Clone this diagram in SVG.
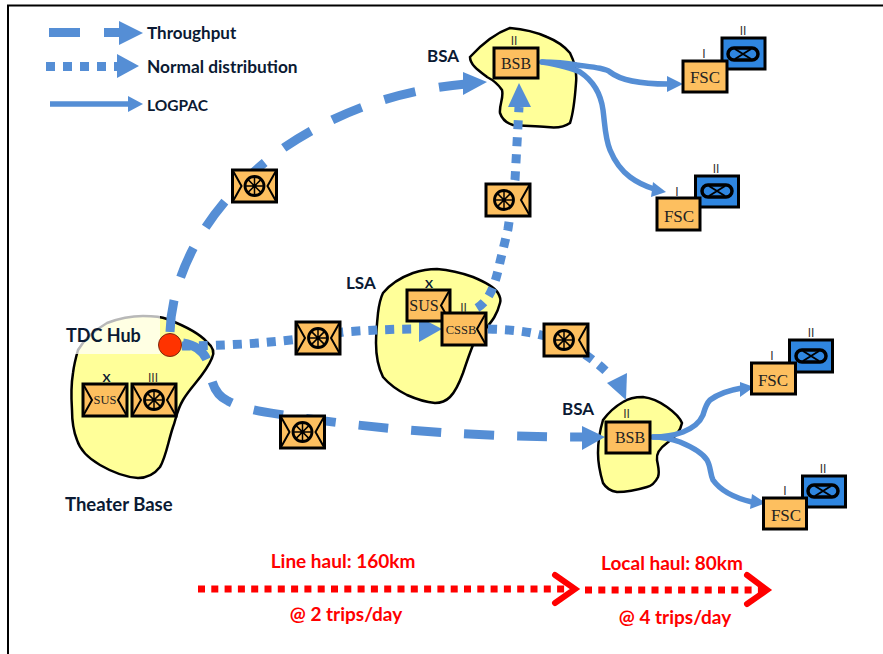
<svg xmlns="http://www.w3.org/2000/svg" width="883" height="654" viewBox="0 0 883 654">
<style>
.blob{fill:#ffff99;stroke:#000;stroke-width:2.5}
.box{fill:#fdbf5f;stroke:#000;stroke-width:3}
.blue{fill:#2f86e0;stroke:#000;stroke-width:3}
.ch{fill:none;stroke:#000;stroke-width:2}
.dash{fill:none;stroke:#558ed5;stroke-width:9}
.dot{fill:none;stroke:#558ed5;stroke-width:9;stroke-dasharray:9 8}
.solid{fill:none;stroke:#558ed5;stroke-width:5.500;stroke-linecap:round}
.head{fill:#558ed5}
.lab{font-family:Lato,"Liberation Sans",sans-serif;font-weight:700;font-size:17px;fill:#0b1a33}
.red{font-family:Lato,"Liberation Sans",sans-serif;font-weight:700;font-size:19px;fill:#ff0000;text-anchor:middle}
.ser{font-family:"Liberation Serif",serif;font-size:16px;fill:#222;text-anchor:middle}
.rank{font-family:"Liberation Sans",sans-serif;font-size:12px;fill:#333;text-anchor:middle}
</style>
<defs>
<g id="wheel" fill="none" stroke="#000">
<circle r="9.5" stroke-width="2.8"/>
<path stroke-width="1.5" d="M-9,0H9M0,-9V9M-6.4,-6.4L6.4,6.4M-6.4,6.4L6.4,-6.4"/>
<circle r="2" fill="#000" stroke="none"/>
</g>
<path id="chL" class="ch" d="M0,0L9,16L0,32"/>
<path id="chR" class="ch" d="M44,0L35,16L44,32"/>
<g id="inf"><rect x="-15" y="-6" width="30" height="12" rx="6" fill="none" stroke="#000" stroke-width="3.500"/><path d="M-8,-5L8,5M-8,5L8,-5" stroke="#000" stroke-width="2"/></g>
</defs>

<g id="frame"><path d="M8,654V5.500H883" fill="none" stroke="#000" stroke-width="2"/></g>

<g id="theater-base">
<path class="blob" d="M167,319C185,326 200,334 207,342C213,347 215,352 212,358C205,375 192,385 183,400C176,412 176,420 173,427C168,442 166,457 160,467C153,476 146,478 138,478C125,477 112,472 100,465C88,458 80,450 77,440C73,430 72,420 72,410C71,395 71,385 73,373C74,365 76,357 78,350C85,338 95,330 107,323C120,318 130,316 143,316C152,316 160,316 167,319Z"/>
<rect x="72" y="312" width="88" height="42" fill="#fff" fill-opacity=".72"/>
<text class="lab" x="66" y="342" style="font-size:18px">TDC Hub</text>
<text class="lab" x="65" y="511" style="font-size:18.500px">Theater Base</text>
</g>

<g id="lsa">
<path class="blob" d="M383,293C392,282 402,277 413,273C422,270 430,269 437,269C450,270 462,273 473,277C485,282 495,288 498,293C501,298 501,300 500,303C497,315 492,321 487,327C481,335 477,340 473,345C469,355 466,364 463,373C459,384 456,391 450,397C446,401 441,403 435,403C425,402 416,399 407,395C397,390 389,384 383,377C378,367 376,355 376,343C376,333 377,323 378,313C379,305 380,299 383,293Z"/>
<text class="lab" x="346" y="289">LSA</text>
</g>

<g id="bsa-top">
<path class="blob" d="M470,57C483,43 496,33 510,28C522,29 536,32 547,37C557,41 565,47 570,53C575,63 577,73 576,83C575,97 574,111 570,123C563,128 555,128 547,127C535,126 524,126 513,125C506,123 502,119 500,113C499,105 504,98 502,90C498,84 493,80 487,77C479,71 470,65 470,57Z"/>
<text class="lab" x="427" y="62">BSA</text>
</g>

<g id="bsa-bottom">
<path class="blob" d="M603,420C609,412 616,406 623,402C629,398 636,397 643,397C652,398 660,402 667,407C674,412 680,418 682,423C680,433 673,439 667,443C660,448 656,454 657,460C658,466 660,472 658,477C655,483 651,486 647,487C637,490 627,492 617,492C610,491 606,488 603,483C600,473 598,463 598,453C598,441 600,430 603,420Z"/>
<text class="lab" x="562" y="415">BSA</text>
</g>

<g id="connectors">
<path class="dash" stroke-dasharray="32 24" d="M170,332C172,270 210,200 285,147C340,110 400,90 466,84"/>
<polygon class="head" points="463,72 487,82 463,95"/>
<path class="dash" stroke-dasharray="30 23" d="M183,343C195,345 205,352 208,363C212,385 215,395 228,401C245,410 265,412 290,416C380,430 480,437 584,437"/>
<polygon class="head" points="582,426 605,437 582,450"/>
<path class="dot" d="M182,346C220,346 290,343 343,332C370,330 395,329 420,329"/>
<polygon class="head" points="419,317 442,329 419,342"/>
<path class="dot" d="M488,329C530,330 570,335 611,376"/>
<polygon class="head" points="607,383 627,373 626,400"/>
<path class="dot" d="M477,308C490,300 495,285 500,262L508,229L515,180L519,107"/>
<polygon class="head" points="508,107 519,83 531,107"/>
<path class="solid" d="M542,62C555,62 566,63 577,65C592,67 605,68 610,72C620,80 640,84 668,84"/>
<polygon class="head" points="667,76 683,84 667,92"/>
<path class="solid" d="M542,62C560,65 572,68 580,72C595,82 601,95 603,110C605,125 605,138 610,150C615,162 622,171 630,177C638,183 645,186 654,189"/>
<polygon class="head" points="653,182 666,192 651,197"/>
<path class="solid" d="M653,437C665,437 675,435 683,432C693,428 700,422 703,415C705,408 706,404 710,400C718,394 730,390 742,388"/>
<polygon class="head" points="740,382 754,387 740,397"/>
<path class="solid" d="M653,437C663,437 672,439 680,442C692,447 702,452 707,460C711,467 710,474 713,480C720,490 735,498 752,502"/>
<polygon class="head" points="752,494 766,503 750,509"/>
</g>

<g id="hub-dot"><circle cx="170" cy="345" r="11.500" fill="#ff3300" stroke="#7a2a10" stroke-width="1"/></g>

<g id="legend">
<path class="dash" d="M49,32.500H80M104,32.500H122"/>
<polygon class="head" points="119,21 143,33 119,45"/>
<path class="dot" d="M46,66.500H118"/>
<polygon class="head" points="117,54 139,66 117,78"/>
<path class="solid" style="stroke-linecap:butt" d="M50,104H130"/>
<polygon class="head" points="128,96 143,104 128,112"/>
<text class="lab" x="147" y="39">Throughput</text>
<text class="lab" x="147" y="73" style="font-size:17.300px">Normal distribution</text>
<text class="lab" x="147" y="111" style="font-size:15.500px">LOGPAC</text>
</g>

<g id="truck-1"><rect class="box" x="232.500" y="170" width="44" height="32"/><use href="#chL" x="232.500" y="170"/><use href="#chR" x="232.500" y="170"/><use href="#wheel" x="254.500" y="186"/></g>
<g id="truck-2"><rect class="box" x="486" y="184" width="44" height="32"/><use href="#chR" x="486" y="184"/><use href="#wheel" x="504" y="200"/></g>
<g id="truck-3"><rect class="box" x="296" y="322" width="44" height="32"/><use href="#chL" x="296" y="322"/><use href="#chR" x="296" y="322"/><use href="#wheel" x="318" y="338"/></g>
<g id="truck-4"><rect class="box" x="280.500" y="416" width="44" height="32"/><use href="#chL" x="280.500" y="416"/><use href="#chR" x="280.500" y="416"/><use href="#wheel" x="302.500" y="432"/></g>
<g id="truck-5"><rect class="box" x="544" y="324" width="44" height="32"/><use href="#chR" x="544" y="324"/><use href="#wheel" x="564" y="340"/></g>

<g id="sus-base"><rect class="box" x="83" y="384" width="44" height="32"/><use href="#chL" x="83" y="384"/><use href="#chR" x="83" y="384"/><text class="ser" x="105" y="404" style="font-size:12.500px">SUS</text><text class="lab" x="106.500" y="382" text-anchor="middle" style="font-size:12px">X</text></g>
<g id="wheel-base"><rect class="box" x="132" y="384" width="44" height="32"/><use href="#chL" x="132" y="384"/><use href="#chR" x="132" y="384"/><use href="#wheel" x="154" y="400"/><text class="rank" x="153" y="382">III</text></g>

<g id="sus-lsa"><rect class="box" x="407" y="290" width="43" height="31"/><use href="#chR" x="406" y="289.500"/><text class="ser" x="424" y="311">SUS</text><text class="lab" x="429" y="288" text-anchor="middle" style="font-size:12px">X</text></g>
<g id="cssb"><rect class="box" x="442" y="313" width="44" height="32"/><use href="#chR" x="442" y="313"/><text class="ser" x="461" y="334" style="font-size:12.500px">CSSB</text><text class="rank" x="463.500" y="312">II</text></g>

<g id="bsb-top"><rect class="box" x="494" y="48" width="44" height="30"/><text class="ser" x="516" y="69">BSB</text><text class="rank" x="514" y="45">II</text></g>
<g id="bsb-bottom"><rect class="box" x="606" y="422" width="44" height="31"/><text class="ser" x="630" y="443">BSB</text><text class="rank" x="626.500" y="418">II</text></g>

<g id="fsc-1"><rect class="blue" x="722" y="38" width="43" height="31"/><use href="#inf" x="743" y="54"/><text class="rank" x="743" y="35">II</text><rect class="box" x="683" y="61" width="44" height="31"/><text class="ser" x="705" y="83" style="font-size:17px">FSC</text><text class="rank" x="704" y="58">I</text></g>
<g id="fsc-2"><rect class="blue" x="695.500" y="176" width="43" height="31"/><use href="#inf" x="717" y="191"/><text class="rank" x="716" y="173">II</text><rect class="box" x="657" y="198" width="43" height="32"/><text class="ser" x="679" y="222" style="font-size:17px">FSC</text><text class="rank" x="677" y="196">I</text></g>
<g id="fsc-3"><rect class="blue" x="789.500" y="340" width="43" height="32"/><use href="#inf" x="811" y="356"/><text class="rank" x="811" y="337">II</text><rect class="box" x="751.500" y="363" width="44" height="31"/><text class="ser" x="773" y="386" style="font-size:17px">FSC</text><text class="rank" x="772" y="360">I</text></g>
<g id="fsc-4"><rect class="blue" x="802.500" y="476" width="43" height="31"/><use href="#inf" x="823" y="491"/><text class="rank" x="823" y="473">II</text><rect class="box" x="763.500" y="498" width="43" height="31"/><text class="ser" x="786" y="521" style="font-size:17px">FSC</text><text class="rank" x="785" y="495">I</text></g>

<g id="haul-scale">
<path d="M198,589H565" fill="none" stroke="#ff0000" stroke-width="7" stroke-dasharray="7 6.300"/>
<path d="M555,575L575,589L555,603" fill="none" stroke="#ff0000" stroke-width="6" stroke-linecap="round"/>
<path d="M585,590H762" fill="none" stroke="#ff0000" stroke-width="7" stroke-dasharray="7 6.300"/>
<path d="M747,575L767,590L747,604" fill="none" stroke="#ff0000" stroke-width="6" stroke-linecap="round"/>
<text class="red" x="343" y="568">Line haul: 160km</text>
<text class="red" x="346" y="621">@ 2 trips/day</text>
<text class="red" x="672" y="570">Local haul: 80km</text>
<text class="red" x="675" y="624">@ 4 trips/day</text>
</g>
</svg>
